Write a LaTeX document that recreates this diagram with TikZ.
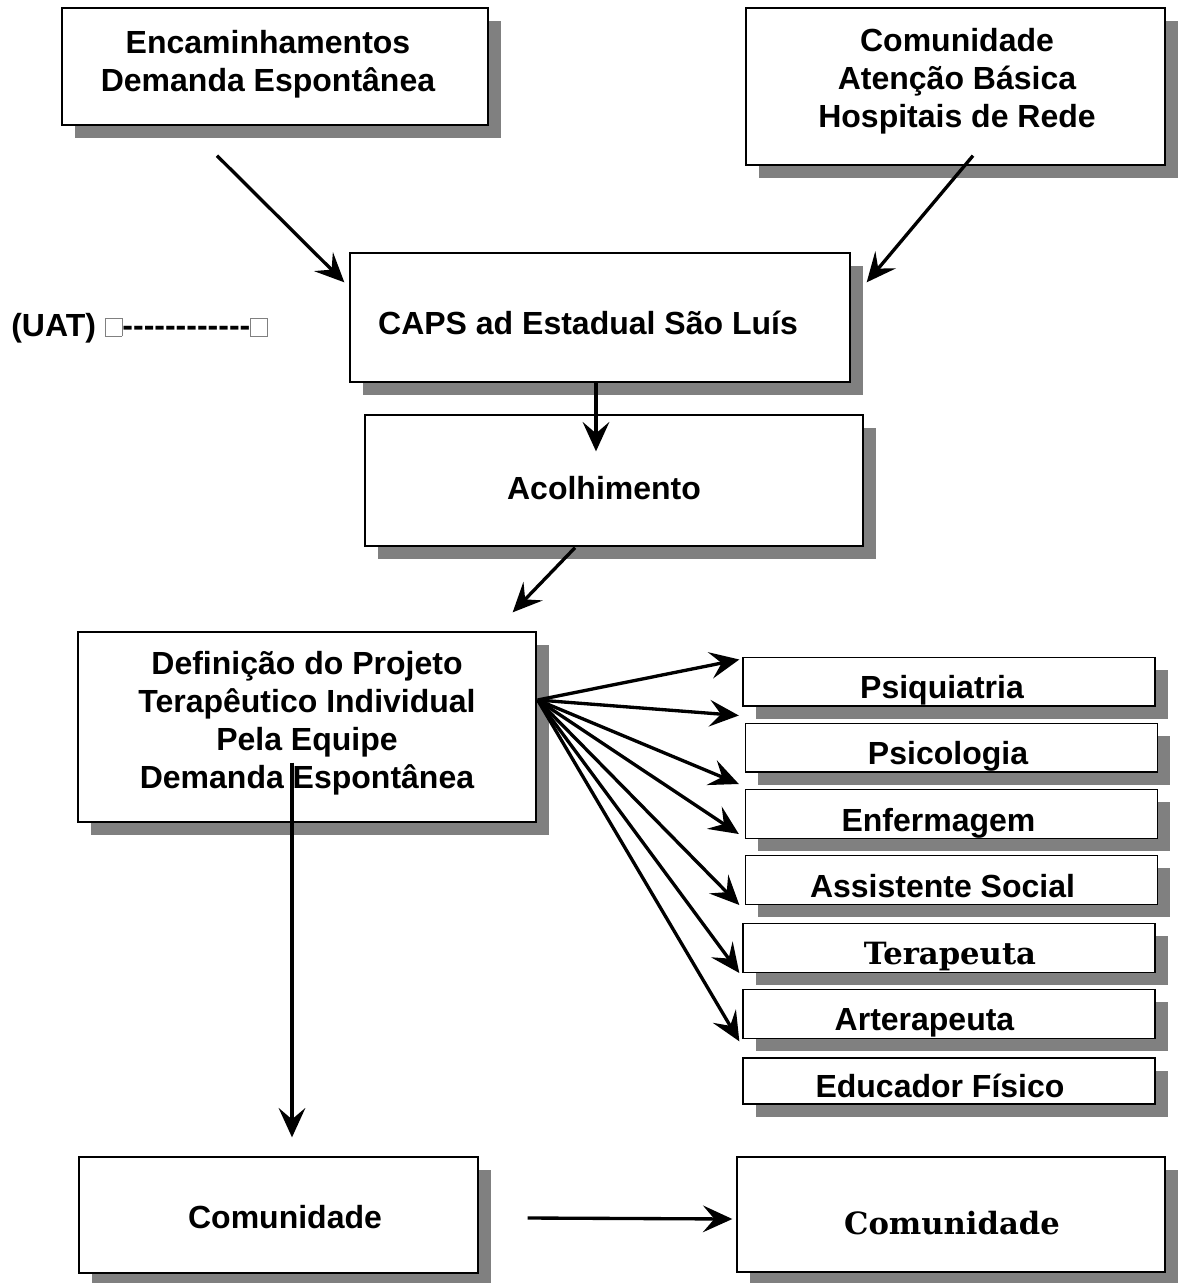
\documentclass[tikz,border=0pt]{standalone}
\usepackage{fontspec}
\setmainfont{Liberation Sans}
\newfontfamily\serifbold{DejaVu Serif}
\usetikzlibrary{arrows.meta,shadows,calc}
\newcommand\emptyglyph{{\color{gray}\setlength\fboxrule{0.6pt}\setlength\fboxsep{0pt}\fbox{\rule{0pt}{13pt}\hspace{12pt}}}}

\begin{document}
\begin{tikzpicture}[x=0.75pt,y=-0.75pt]

\tikzset{box/.style = {draw, line width=1pt, fill=white, inner sep=0pt,
  drop shadow={shadow xshift=9.5pt, shadow yshift=-9.5pt, fill=black!50, opacity=1}}}
\tikzset{role/.style = {box, minimum width=309pt, minimum height=36.5pt}}
\tikzset{txt/.style = {font=\bfseries\fontsize{24}{28.5}\selectfont, align=center, inner sep=0pt, anchor=base}}
\tikzset{stxt/.style = {txt, font=\serifbold\bfseries\fontsize{23}{27}\selectfont}}
\tikzset{edge/.style = {-{Stealth[length=22pt,width=20pt,inset=8.5pt]}, line width=2.5pt}}
%\draw[help lines] (0,0) grid[step=100] (1178,1283);
\useasboundingbox (0,0) rectangle (1178,1283);

% boxes
\node[box, minimum width=319.5pt, minimum height=87.75pt] (a) at (275,66.5) {};
\node[box, minimum width=314.25pt, minimum height=117.75pt] (b) at (955.5,86.5) {};
\node[box, minimum width=375pt, minimum height=96.75pt] (c) at (600,317.5) {};
\node[box, minimum width=373.5pt, minimum height=98.25pt] (d) at (614,480.5) {};
\node[box, minimum width=343.5pt, minimum height=142.5pt] (e) at (307,727) {};
\node[role] (f) at (949,681.5) {};
\node[role] (g) at (951.5,747.5) {};
\node[role] (h) at (951.5,814) {};
\node[role] (i) at (951.5,880) {};
\node[role] (j) at (949,948) {};
\node[role] (k) at (949,1014) {};
\node[role, minimum height=34.5pt] (l) at (949,1081) {};
\node[box, minimum width=299.25pt, minimum height=87pt] (m) at (278.5,1215) {};
\node[box, minimum width=321pt, minimum height=86.25pt] (n) at (951,1214.5) {};

% texts
\node[txt] (ta) at (268,91) {Encaminhamentos\\Demanda Espontânea};
\node[txt] (tb) at (957,127) {Comunidade\\Atenção Básica\\Hospitais de Rede};
\node[txt] (tc) at (588,334) {CAPS ad Estadual São Luís};
\node[txt] (td) at (604,499) {Acolhimento};
\node[txt] (te) at (307,788) {Definição do Projeto\\Terapêutico Individual\\Pela Equipe\\Demanda Espontânea};
\node[txt] (tf) at (942,698) {Psiquiatria};
\node[txt] (tg) at (948,764) {Psicologia};
\node[txt] (th) at (938.5,831) {Enfermagem};
\node[txt] (ti) at (942.5,897) {Assistente Social};
\node[stxt] (tj) at (950,964) {Terapeuta};
\node[txt] (tk) at (924.5,1030) {Arterapeuta};
\node[txt] (tl) at (940,1097) {Educador Físico};
\node[txt] (tm) at (285,1228) {Comunidade};
\node[stxt] (tn) at (952,1234) {Comunidade};
\node[txt, anchor=base west] (u) at (11,336) {(UAT) \emptyglyph-{}-{}-{}-{}-{}-{}-{}-{}-{}-{}-{}-\emptyglyph};

% arrows
\draw[edge] ($(a.south)+(-58,30)$) -- ($(c.north west)+(-5,30)$);
\draw[edge] ($(b.south)+(17.5,-10)$) -- ($(c.north east)+(16,30)$);
\draw[edge] ($(c.south)+(-4,0)$) -- ($(d.north)+(-18,37)$);
\draw[edge] ($(d.south)+(-39,1)$) -- ($(e.north east)+(-24,-19)$);
\draw[edge] ($(e.east)+(1,-27)$) -- ($(f.north west)+(-3,3)$);
\draw[edge] ($(e.east)+(1,-27)$) -- ($(g.north west)+(-6,-7)$);
\draw[edge] ($(e.east)+(1,-27)$) -- ($(h.north west)+(-6,-5)$);
\draw[edge] ($(e.east)+(1,-27)$) -- ($(i.north west)+(-6,-21)$);
\draw[edge] ($(e.east)+(1,-27)$) -- ($(j.north west)+(-3,-18)$);
\draw[edge] ($(e.east)+(1,-27)$) -- ($(k.north west)+(-3,-16)$);
\draw[edge] ($(e.east)+(1,-27)$) -- ($(l.north west)+(-3,-16)$);
\draw[edge] ($(e.south)+(-15,-60)$) -- ($(m.north)+(13.5,-19)$);
\draw[edge] ($(m.east)+(49,3)$) -- ($(n.west)+(-4,4.5)$);
\end{tikzpicture}
\end{document}
